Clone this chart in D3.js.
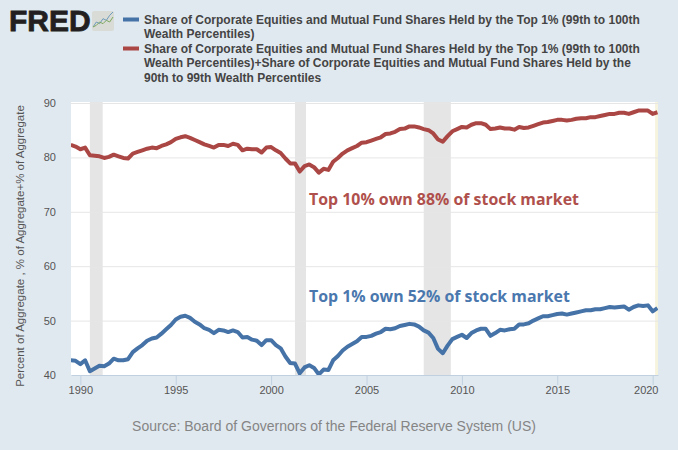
<!DOCTYPE html>
<html>
<head>
<meta charset="utf-8">
<script src="https://cdn.jsdelivr.net/npm/d3@7"></script>
<style>
  body { margin: 0; background: #e1e9f0; }
  text { font-family: "Liberation Sans", Arial, sans-serif; }
</style>
</head>
<body>
<div id="chart"></div>
<script>
// quarterly values, starting 1989 Q3
const startYear = 1989.5;
const top1 = [
  42.7,42.6,42.0,42.7,40.7,41.2,41.7,41.6,42.1,43.0,42.7,42.7,42.9,44.2,44.9,45.5,46.3,46.7,46.9,47.6,
  48.4,49.2,50.2,50.7,50.9,50.5,49.8,49.3,48.6,48.3,47.7,48.3,48.2,47.9,48.2,47.9,46.9,47.0,46.5,46.3,
  45.5,46.4,46.4,45.5,44.9,43.4,42.2,42.1,40.3,41.4,41.8,41.3,40.1,41.0,40.9,42.7,43.5,44.5,45.2,45.7,
  46.2,47.0,47.0,47.2,47.6,47.9,48.5,48.4,48.6,49.0,49.2,49.4,49.3,48.9,48.2,47.8,46.8,44.8,44.0,45.4,
  46.6,47.0,47.4,46.8,47.7,48.2,48.5,48.5,47.2,47.7,48.3,48.2,48.4,48.5,49.3,49.3,49.5,50.0,50.4,50.8,
  50.8,51.0,51.2,51.3,51.1,51.3,51.5,51.7,51.9,51.9,52.1,52.1,52.3,52.5,52.4,52.5,52.6,52.0,52.5,52.8,
  52.7,52.8,51.7,52.3
];
const top10 = [
  82.3,82.0,81.5,81.8,80.4,80.3,80.2,79.9,80.1,80.5,80.2,79.9,79.8,80.7,81.0,81.3,81.6,81.8,81.7,82.1,
  82.4,82.8,83.4,83.7,83.9,83.6,83.2,82.8,82.4,82.1,81.8,82.3,82.3,82.1,82.5,82.3,81.3,81.6,81.5,81.5,
  80.9,81.8,81.9,81.3,80.8,79.8,78.9,78.9,77.4,78.4,78.7,78.2,77.2,77.9,77.7,79.2,79.9,80.7,81.3,81.7,
  82.1,82.7,82.8,83.1,83.4,83.7,84.3,84.4,84.7,85.2,85.3,85.7,85.7,85.5,85.2,85.0,84.4,83.3,82.9,83.9,
  84.8,85.2,85.6,85.5,86.0,86.3,86.3,86.0,85.2,85.3,85.5,85.3,85.3,85.1,85.6,85.4,85.5,85.8,86.1,86.4,
  86.5,86.7,86.9,86.9,86.8,86.9,87.1,87.2,87.2,87.4,87.4,87.6,87.8,88.0,88.0,88.2,88.2,88.0,88.3,88.6,
  88.6,88.6,88.0,88.3
];
const recessions = [[1990.5, 1991.17], [2001.25, 2001.83], [2008, 2009.42]];
const lastRecession = [2020.13, 2020.28];
const xTicks = [1990, 1995, 2000, 2005, 2010, 2015, 2020];
const yTicks = [40, 50, 60, 70, 80, 90];
const legendBlue = ["Share of Corporate Equities and Mutual Fund Shares Held by the Top 1% (99th to 100th", "Wealth Percentiles)"];
const legendRed = ["Share of Corporate Equities and Mutual Fund Shares Held by the Top 1% (99th to 100th", "Wealth Percentiles)+Share of Corporate Equities and Mutual Fund Shares Held by the", "90th to 99th Wealth Percentiles"];
const yTitle = "Percent of Aggregate , % of Aggregate+% of Aggregate";
const source = "Source: Board of Governors of the Federal Reserve System (US)";
const noteRed = "Top 10% own 88% of stock market";
const noteBlue = "Top 1% own 52% of stock market";
const iconBlue = [0, 3, 2, 5, 4, 7, 9];
const iconGreen = [0, 1, 3, 2, 4, 3, 6];

const width = 678, height = 450;
const plotLeft = 71, plotRight = 658, plotTop = 102, plotBottom = 375;
const blue = "#4572a7", red = "#aa4643";

const svg = d3.select("#chart").append("svg")
  .attr("width", width)
  .attr("height", height)
  .style("display", "block");

const x = d3.scaleLinear().domain([1989.51, 2020.28]).range([plotLeft, plotRight]);
const y = d3.scaleLinear().domain([40, 90]).range([plotBottom, 103]);

svg.append("rect")
  .attr("x", plotLeft).attr("y", plotTop)
  .attr("width", plotRight - plotLeft).attr("height", plotBottom - plotTop)
  .attr("fill", "#fff");

svg.append("defs").append("clipPath").attr("id", "plot")
  .append("rect")
  .attr("x", plotLeft).attr("y", plotTop)
  .attr("width", plotRight - plotLeft).attr("height", plotBottom - plotTop);

// recession bands
svg.selectAll(".band").data(recessions).enter().append("rect")
  .attr("class", "band")
  .attr("x", d => x(d[0]))
  .attr("y", plotTop)
  .attr("width", d => x(d[1]) - x(d[0]))
  .attr("height", plotBottom - plotTop)
  .attr("fill", "#e5e5e5");

svg.append("rect")
  .attr("x", x(lastRecession[0]))
  .attr("y", plotTop)
  .attr("width", x(lastRecession[1]) - x(lastRecession[0]))
  .attr("height", plotBottom - plotTop)
  .attr("fill", "#f6f4dd");

// axes
const yAxis = d3.axisLeft(y).tickValues(yTicks).tickSize(-(plotRight - plotLeft)).tickPadding(15);
const yG = svg.append("g")
  .attr("transform", `translate(${plotLeft},0)`)
  .call(yAxis);
yG.select(".domain").remove();
yG.selectAll("line").attr("stroke", "#e6e6e6");
yG.selectAll("line").filter(d => d === 40).remove();
yG.selectAll("text").attr("font-size", 11).attr("fill", "#555").style("font-family", '"Liberation Sans", Arial, sans-serif');

const xAxis = d3.axisBottom(x).tickValues(xTicks).tickFormat(d3.format("d")).tickSize(10).tickPadding(1).tickSizeOuter(0);
const xG = svg.append("g")
  .attr("transform", `translate(0,${plotBottom})`)
  .call(xAxis);
xG.select(".domain").attr("stroke", "#c0d0e0");
xG.selectAll("line").attr("stroke", "#c0d0e0");
xG.selectAll("text").attr("font-size", 11).attr("fill", "#555").style("font-family", '"Liberation Sans", Arial, sans-serif');
// last label is pulled in so that it stays inside the plot edge
xG.selectAll("text").filter(d => d === 2020).attr("text-anchor", "end").attr("x", plotRight - x(2020));

// series
const line = d3.line()
  .x((d, i) => x(startYear + i / 4))
  .y(d => y(d));

svg.append("path")
  .datum(top1)
  .attr("clip-path", "url(#plot)")
  .attr("fill", "none")
  .attr("stroke", blue)
  .attr("stroke-width", 4)
  .attr("stroke-linejoin", "round")
  .attr("d", line);

svg.append("path")
  .datum(top10)
  .attr("clip-path", "url(#plot)")
  .attr("fill", "none")
  .attr("stroke", red)
  .attr("stroke-width", 4)
  .attr("stroke-linejoin", "round")
  .attr("d", line);

// notes on the plot
svg.append("text")
  .attr("x", 309).attr("y", 205)
  .attr("font-size", 15.9).attr("font-weight", "bold")
  .style("font-family", '"Open Sans", sans-serif')
  .attr("fill", "#b0504c")
  .text(noteRed);

svg.append("text")
  .attr("x", 309).attr("y", 302)
  .attr("font-size", 15.9).attr("font-weight", "bold")
  .style("font-family", '"Open Sans", sans-serif')
  .attr("fill", "#4a78ae")
  .text(noteBlue);

// y title and source
svg.append("text")
  .attr("transform", "translate(24,246) rotate(-90)")
  .attr("text-anchor", "middle")
  .attr("font-size", 11.5)
  .attr("fill", "#555")
  .text(yTitle);

svg.append("text")
  .attr("x", 334).attr("y", 431)
  .attr("text-anchor", "middle")
  .attr("font-size", 14)
  .attr("fill", "#858585")
  .text(source);

// legend
function legendEntry(lines, color, top) {
  svg.append("rect")
    .attr("x", 123).attr("y", top - 2)
    .attr("width", 16).attr("height", 4)
    .attr("fill", color);
  lines.forEach((t, i) => {
    svg.append("text")
      .attr("x", 144).attr("y", top + 4 + i * 14.7)
      .attr("font-size", 12)
      .attr("font-weight", "bold")
      .attr("fill", "#444")
      .text(t);
  });
}
legendEntry(legendBlue, blue, 19.5);
legendEntry(legendRed, red, 48.5);

// FRED logo
svg.append("text")
  .attr("x", 9).attr("y", 31)
  .attr("font-size", 30)
  .attr("font-weight", "bold")
  .attr("stroke", "#231f20").attr("stroke-width", 0.8)
  .attr("fill", "#231f20")
  .text("FRED");

svg.append("rect")
  .attr("x", 92).attr("y", 11)
  .attr("width", 22).attr("height", 20).attr("rx", 2)
  .attr("fill", "#d9dcd6");

const iconX = d3.scaleLinear().domain([0, 6]).range([93, 113]);
const iconY = d3.scaleLinear().domain([0, 9]).range([27, 12]);
const iconLine = d3.line().x((d, i) => iconX(i)).y(d => iconY(d));
svg.append("path").attr("d", iconLine(iconBlue)).attr("fill", "none").attr("stroke", "#6f9bbd").attr("stroke-width", 1);
svg.append("path").attr("d", iconLine(iconGreen)).attr("fill", "none").attr("stroke", "#7fa860").attr("stroke-width", 1);
</script>
</body>
</html>
